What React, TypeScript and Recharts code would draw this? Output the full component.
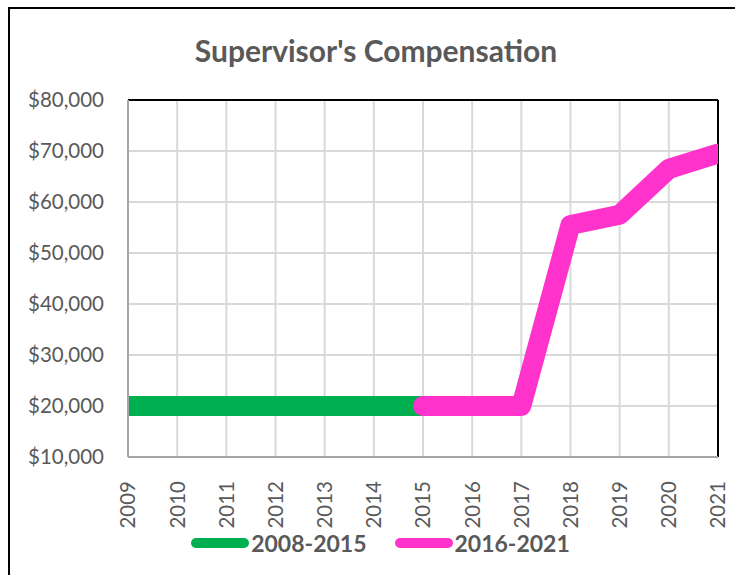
import React from 'react';
import { LineChart, Line, XAxis, YAxis, CartesianGrid, ReferenceLine } from 'recharts';

const years = ['2009', '2010', '2011', '2012', '2013', '2014', '2015', '2016', '2017', '2018', '2019', '2020', '2021'];
const early = [20000, 20000, 20000, 20000, 20000, 20000, 20000, null, null, null, null, null, null];
const late = [null, null, null, null, null, null, 20000, 20000, 20000, 55500, 57500, 66500, 69500];
const yTicks = [10000, 20000, 30000, 40000, 50000, 60000, 70000, 80000];

const seriesNames = ['2008-2015', '2016-2021'];
const seriesColors = ['#00b050', '#ff33cc'];

const data = years.map((y, i) => ({ year: y, early: early[i], late: late[i] }));

const FONT = 'Lato, "Open Sans", sans-serif';
const GREY = '#595959';

const money = (v: number) => '$' + v.toLocaleString('en-US');

function YearTick({ x, y, payload }: any) {
  return (
    <text
      x={x}
      y={y + 16}
      transform={`rotate(-90, ${x}, ${y + 16})`}
      textAnchor="end"
      dy="0.36em"
      fill={GREY}
      fontSize={20.5}
      fontFamily={FONT}
    >
      {payload.value}
    </text>
  );
}

function LegendBox() {
  return (
    <div
      style={{
        position: 'absolute', left: 0, width: 735, top: 529, height: 28,
        display: 'flex', justifyContent: 'center', alignItems: 'center', fontFamily: FONT, paddingLeft: 26,
        boxSizing: 'border-box',
      }}
    >
      {seriesNames.map((n, i) => (
        <div key={n} style={{ display: 'flex', alignItems: 'center', marginRight: i === 0 ? 28 : 0 }}>
          <span style={{ display: 'inline-block', width: 58, height: 10, borderRadius: 5, background: seriesColors[i], marginRight: 2 }} />
          <span style={{ fontSize: 23, fontWeight: 700, color: GREY }}>{n}</span>
        </div>
      ))}
    </div>
  );
}

export default function App() {
  return (
    <div style={{ position: 'absolute', left: 0, top: 0, width: 735, height: 575, background: '#fff' }}>
      <div style={{ position: 'absolute', left: 8, top: 7, width: 727, height: 568, borderLeft: '2px solid #000', borderTop: '2px solid #000' }} />
      <div
        style={{
          position: 'absolute', left: 0, width: 752, top: 33, textAlign: 'center',
          fontFamily: FONT, fontWeight: 700, fontSize: 30, color: GREY, lineHeight: '34px',
        }}
      >
        Supervisor's Compensation
      </div>
      <LineChart width={735} height={575} data={data} margin={{ top: 100, right: 17, bottom: 38, left: 0 }}>
        <CartesianGrid stroke="#d9d9d9" strokeWidth={2} />
        <XAxis
          dataKey="year"
          interval={0}
          allowDataOverflow
          padding={{ left: 0, right: 0 }}
          axisLine={{ stroke: '#a6a6a6', strokeWidth: 2 }}
          tickLine={false}
          tick={<YearTick />}
          height={80}
        />
        <YAxis
          domain={[10000, 80000]}
          ticks={yTicks}
          allowDataOverflow
          tickFormatter={money}
          axisLine={{ stroke: '#a6a6a6', strokeWidth: 2 }}
          tickLine={false}
          tickSize={0}
          tickMargin={24}
          width={128}
          tick={{ fill: GREY, fontSize: 20.5, fontFamily: FONT }}
        />
        <ReferenceLine y={80000} stroke="#000" strokeWidth={2} />
        <ReferenceLine x="2021" stroke="#000" strokeWidth={2} />
        <Line
          dataKey="early"
          name={seriesNames[0]}
          stroke={seriesColors[0]}
          strokeWidth={20}
          strokeLinecap="round"
          strokeLinejoin="round"
          dot={false}
          activeDot={false}
          isAnimationActive={false}
        />
        <Line
          dataKey="late"
          name={seriesNames[1]}
          stroke={seriesColors[1]}
          strokeWidth={20}
          strokeLinecap="round"
          strokeLinejoin="round"
          dot={false}
          activeDot={false}
          isAnimationActive={false}
        />
      </LineChart>
      <LegendBox />
    </div>
  );
}
